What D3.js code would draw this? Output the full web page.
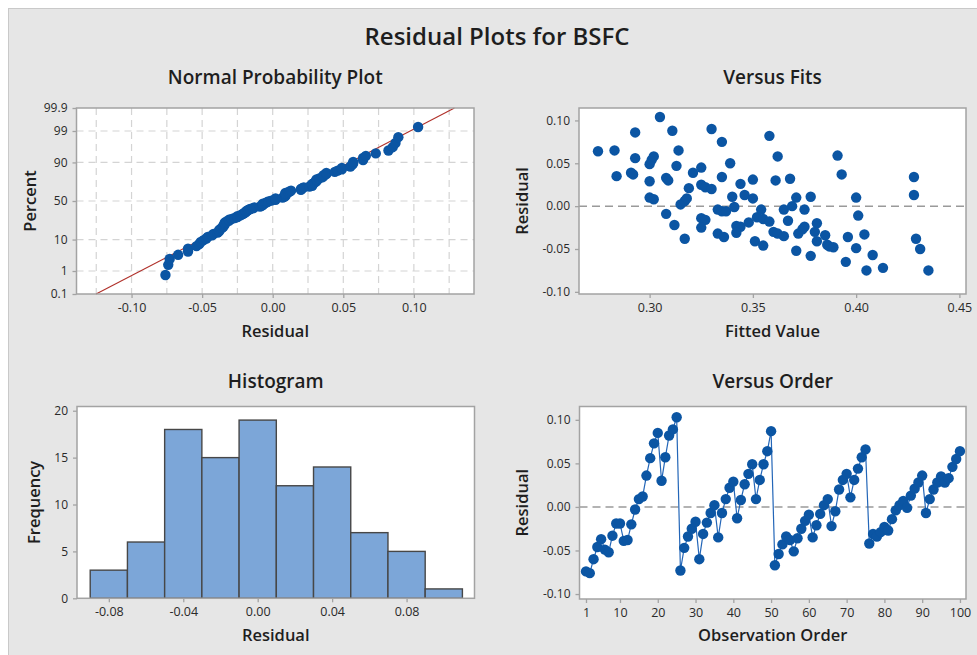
<!DOCTYPE html>
<html><head><meta charset="utf-8">
<script src="https://cdn.jsdelivr.net/npm/d3@7"></script>
<style>
html,body{margin:0;padding:0;background:#fff;}
svg{display:block;font-family:"Open Sans",sans-serif;}
</style></head>
<body>
<svg id="chart" width="977" height="655"></svg>
<script>
// ---------- DATA ----------
const mainTitle = "Residual Plots for BSFC";
const residualsByOrder = [
 -0.074,-0.076,-0.060,-0.046,-0.037,-0.049,-0.052,-0.033,-0.019,-0.019,
 -0.039,-0.038,-0.020,-0.003,0.009,0.012,0.036,0.056,0.073,0.085,
 0.030,0.057,0.082,0.089,0.103,-0.073,-0.047,-0.034,-0.025,-0.017,
 -0.060,-0.031,-0.018,-0.007,0.002,-0.035,-0.007,0.009,0.022,0.029,
 -0.013,0.008,0.026,0.038,0.049,0.009,0.031,0.049,0.064,0.087,
 -0.067,-0.054,-0.043,-0.034,-0.038,-0.051,-0.036,-0.025,-0.016,-0.009,
 -0.035,-0.021,-0.008,0.002,0.009,-0.022,-0.005,0.020,0.031,0.038,
 0.011,0.031,0.044,0.057,0.066,-0.042,-0.031,-0.034,-0.029,-0.023,
 -0.027,-0.014,-0.004,0.002,0.007,-0.001,0.013,0.021,0.028,0.036,
 -0.007,0.009,0.020,0.028,0.035,0.028,0.033,0.046,0.055,0.064];

const fittedValues = [
 0.275,0.283,0.284,0.291,0.292,0.293,0.293,0.300,0.301,0.302,0.300,0.300,0.302,
 0.305,0.308,0.308,0.309,0.311,0.312,0.313,0.314,0.315,0.317,0.318,0.317,0.319,0.321,
 0.325,0.325,0.327,0.330,0.330,0.325,0.327,0.325,0.333,0.335,0.335,0.335,0.333,0.336,0.337,
 0.339,0.340,0.341,0.342,0.344,0.342,0.344,0.346,0.348,0.350,0.350,0.351,0.352,0.354,0.355,
 0.355,0.358,0.358,0.360,0.361,0.362,0.362,0.365,0.365,0.367,0.368,
 0.369,0.371,0.371,0.372,0.374,0.375,0.375,0.378,0.378,0.381,0.380,0.381,0.385,0.386,0.387,
 0.389,0.391,0.393,0.395,0.396,0.400,0.400,0.401,0.404,0.405,0.408,0.413,
 0.428,0.428,0.429,0.431,0.435];
const fittedResiduals = [
 0.064,0.065,0.035,0.039,0.037,0.086,0.056,0.049,0.054,0.058,0.029,0.010,0.008,
 0.104,-0.009,0.033,0.030,0.088,-0.022,0.047,0.065,0.002,0.006,0.009,-0.038,0.021,0.039,
 0.045,0.025,0.022,0.020,0.090,-0.014,-0.016,-0.025,-0.004,-0.006,0.075,0.034,-0.032,-0.036,-0.006,
 0.050,0.011,-0.001,-0.023,-0.024,-0.031,0.026,0.013,-0.019,0.031,0.009,-0.041,-0.013,-0.004,-0.015,
 -0.046,-0.018,0.082,-0.030,0.030,0.058,-0.032,-0.035,-0.004,-0.017,0.032,
 0.000,0.010,-0.052,-0.032,-0.027,-0.024,-0.004,0.011,-0.058,-0.020,-0.030,-0.041,-0.034,-0.045,-0.047,
 -0.048,0.059,0.037,-0.065,-0.036,0.010,-0.049,-0.011,-0.033,-0.075,-0.057,-0.072,
 0.034,0.013,-0.038,-0.050,-0.075];

const histBinEdges = [-0.09,-0.07,-0.05,-0.03,-0.01,0.01,0.03,0.05,0.07,0.09,0.11];
const histCounts = [3,6,18,15,19,12,14,7,5,1];

const nppXTicks = [-0.10,-0.05,0.00,0.05,0.10];
const nppXGrid = [-0.125,-0.10,-0.075,-0.05,-0.025,0,0.025,0.05,0.075,0.10,0.125];
const nppPercentTicks = [0.1,1,10,50,90,99,99.9];
const nppPercentGrid = [1,10,50,90,99];
const fitsXTicks = [0.30,0.35,0.40,0.45];
const residTicks = [-0.10,-0.05,0.00,0.05,0.10];
const histXTicks = [-0.08,-0.04,0.00,0.04,0.08];
const histYTicks = [0,5,10,15,20];
const orderXTicks = [1,10,20,30,40,50,60,70,80,90,100];

// ---------- helpers ----------
function qnorm(p){
 const a=[-3.969683028665376e+01,2.209460984245205e+02,-2.759285104469687e+02,1.383577518672690e+02,-3.066479806614716e+01,2.506628277459239e+00];
 const b=[-5.447609879822406e+01,1.615858368580409e+02,-1.556989798598866e+02,6.680131188771972e+01,-1.328068155288572e+01];
 const c=[-7.784894002430293e-03,-3.223964580411365e-01,-2.400758277161838e+00,-2.549732539343734e+00,4.374664141464968e+00,2.938163982698783e+00];
 const d=[7.784695709041462e-03,3.224671290700398e-01,2.445134137142996e+00,3.754408661907416e+00];
 const pl=0.02425, ph=1-pl; let q,r;
 if(p<pl){q=Math.sqrt(-2*Math.log(p));return (((((c[0]*q+c[1])*q+c[2])*q+c[3])*q+c[4])*q+c[5])/((((d[0]*q+d[1])*q+d[2])*q+d[3])*q+1);}
 if(p<=ph){q=p-0.5;r=q*q;return (((((a[0]*r+a[1])*r+a[2])*r+a[3])*r+a[4])*r+a[5])*q/(((((b[0]*r+b[1])*r+b[2])*r+b[3])*r+b[4])*r+1);}
 q=Math.sqrt(-2*Math.log(1-p));return -(((((c[0]*q+c[1])*q+c[2])*q+c[3])*q+c[4])*q+c[5])/((((d[0]*q+d[1])*q+d[2])*q+d[3])*q+1);
}

const svg = d3.select("#chart");
const BG = "#e6e6e6", FRAME = "#a3a3a3", DOT = "#0b55a3", TXT = "#1e1e1e", TICKTXT="#2a2a2a";

svg.append("rect").attr("x",8.5).attr("y",8.5).attr("width",990).attr("height",680)
  .attr("fill",BG).attr("stroke","#c9c9c9");

svg.append("text").attr("x",497).attr("y",45).attr("text-anchor","middle")
  .attr("font-size",24).attr("font-weight",600).attr("fill",TXT).text(mainTitle);

function panel(opts){
  const {x0,x1,y0,y1,title,xlab,ylab,xScale,yScale,xTicks,yTicks,xFmt,yFmt,titleY,xlabY,ylabX} = opts;
  const g = svg.append("g");
  g.append("rect").attr("x",x0).attr("y",y0).attr("width",x1-x0).attr("height",y1-y0).attr("fill","#fff");
  const gx = g.append("g").attr("transform",`translate(0,${y1})`)
    .call(d3.axisBottom(xScale).tickValues(xTicks).tickFormat(xFmt).tickSize(4).tickPadding(5));
  const gy = g.append("g").attr("transform",`translate(${x0},0)`)
    .call(d3.axisLeft(yScale).tickValues(yTicks).tickFormat(yFmt).tickSize(4).tickPadding(5));
  [gx,gy].forEach(a=>{
    a.select(".domain").remove();
    a.selectAll(".tick line").attr("stroke",FRAME).attr("stroke-width",1.3);
    a.selectAll(".tick text").attr("fill",TICKTXT).attr("font-family","Open Sans, sans-serif");
  });
  gx.selectAll(".tick text").attr("font-size",12.5);
  gy.selectAll(".tick text").attr("font-size",12);
  const cx=(x0+x1)/2, cy=(y0+y1)/2;
  svg.append("text").attr("x",cx).attr("y",titleY).attr("text-anchor","middle")
    .attr("font-size",19).attr("font-weight",600).attr("fill",TXT).text(title);
  svg.append("text").attr("x",cx).attr("y",xlabY).attr("text-anchor","middle")
    .attr("font-size",16.5).attr("font-weight",600).attr("fill",TXT).text(xlab);
  svg.append("text").attr("transform",`translate(${ylabX},${cy}) rotate(-90)`).attr("text-anchor","middle")
    .attr("font-size",16.5).attr("font-weight",600).attr("fill",TXT).text(ylab);
  const plot = g.append("g");
  const frame = ()=> svg.append("rect").attr("x",x0).attr("y",y0).attr("width",x1-x0).attr("height",y1-y0)
      .attr("fill","none").attr("stroke",FRAME).attr("stroke-width",1.5);
  return {plot, frame};
}
const f2 = d3.format(".2f");
const fmtSigned = v => f2(v).replace("−","-");

// ---------- Normal probability plot ----------
{
  const x0=76.5,x1=474,y0=108,y1=294;
  const xs = d3.scaleLinear().domain([-0.1390,0.1426]).range([x0,x1]);
  const ys = d3.scaleLinear().domain([qnorm(0.001),qnorm(0.999)]).range([y1,y0]);
  const zTicks = nppPercentTicks.map(p=>qnorm(p/100));
  const p = panel({x0,x1,y0,y1,title:"Normal Probability Plot",xlab:"Residual",ylab:"Percent",
    xScale:xs,yScale:ys,xTicks:nppXTicks,yTicks:zTicks,
    xFmt:fmtSigned,yFmt:(d,i)=>String(nppPercentTicks[i]),titleY:84,xlabY:337,ylabX:36});
  const pl = p.plot;
  pl.selectAll("line.vg").data(nppXGrid).join("line")
    .attr("x1",d=>xs(d)).attr("x2",d=>xs(d)).attr("y1",y0).attr("y2",y1)
    .attr("stroke","#d4d4d4").attr("stroke-width",1.2).attr("stroke-dasharray","7,5");
  pl.selectAll("line.hg").data(nppPercentGrid).join("line")
    .attr("x1",x0).attr("x2",x1).attr("y1",d=>ys(qnorm(d/100))).attr("y2",d=>ys(qnorm(d/100)))
    .attr("stroke","#d4d4d4").attr("stroke-width",1.2).attr("stroke-dasharray","7,5");
  const n = residualsByOrder.length;
  const sorted = residualsByOrder.slice().sort(d3.ascending);
  const mu = d3.mean(sorted), sd = d3.deviation(sorted);
  const zLo = qnorm(0.001), zHi = qnorm(0.999);
  pl.append("line").attr("x1",xs(mu+sd*zLo)).attr("y1",ys(zLo)).attr("x2",xs(mu+sd*zHi)).attr("y2",ys(zHi))
    .attr("stroke","#b0302a").attr("stroke-width",1.1);
  pl.selectAll("circle").data(sorted).join("circle")
    .attr("cx",d=>xs(d)).attr("cy",(d,i)=>ys(qnorm((i+1-0.3)/(n+0.4))))
    .attr("r",5.2).attr("fill",DOT);
  p.frame();
}

// ---------- Versus Fits ----------
{
  const x0=579,x1=966,y0=108,y1=294;
  const xs = d3.scaleLinear().domain([0.2658,0.4532]).range([x0,x1]);
  const ys = d3.scaleLinear().domain([-0.1025,0.1145]).range([y1,y0]);
  const p = panel({x0,x1,y0,y1,title:"Versus Fits",xlab:"Fitted Value",ylab:"Residual",
    xScale:xs,yScale:ys,xTicks:fitsXTicks,yTicks:residTicks,xFmt:f2,yFmt:fmtSigned,titleY:84,xlabY:337,ylabX:528});
  p.plot.append("line").attr("x1",x0).attr("x2",x1).attr("y1",ys(0)).attr("y2",ys(0))
    .attr("stroke","#9a9a9a").attr("stroke-width",1.5).attr("stroke-dasharray","8,5");
  p.plot.selectAll("circle").data(fittedValues).join("circle")
    .attr("cx",d=>xs(d)).attr("cy",(d,i)=>ys(fittedResiduals[i])).attr("r",5.2).attr("fill",DOT);
  p.frame();
}

// ---------- Histogram ----------
{
  const x0=77,x1=474.5,y0=406.5,y1=598.3;
  const xs = d3.scaleLinear().domain([-0.0971,0.1165]).range([x0,x1]);
  const ys = d3.scaleLinear().domain([0,20.45]).range([y1,y0]);
  const p = panel({x0,x1,y0,y1,title:"Histogram",xlab:"Residual",ylab:"Frequency",
    xScale:xs,yScale:ys,xTicks:histXTicks,yTicks:histYTicks,xFmt:fmtSigned,yFmt:d3.format("d"),titleY:388,xlabY:641,ylabX:40});
  p.plot.selectAll("rect.bar").data(histCounts).join("rect").attr("class","bar")
    .attr("x",(d,i)=>xs(histBinEdges[i])).attr("width",(d,i)=>xs(histBinEdges[i+1])-xs(histBinEdges[i]))
    .attr("y",d=>ys(d)).attr("height",d=>ys(0)-ys(d))
    .attr("fill","#7ca6d8").attr("stroke","#474747").attr("stroke-width",1.4);
  p.frame();
}

// ---------- Versus Order ----------
{
  const x0=579.5,x1=966,y0=406.5,y1=599;
  const xs = d3.scaleLinear().domain([-0.72,101.6]).range([x0,x1]);
  const ys = d3.scaleLinear().domain([-0.1057,0.1153]).range([y1,y0]);
  const p = panel({x0,x1,y0,y1,title:"Versus Order",xlab:"Observation Order",ylab:"Residual",
    xScale:xs,yScale:ys,xTicks:orderXTicks,yTicks:residTicks,xFmt:d3.format("d"),yFmt:fmtSigned,titleY:388,xlabY:641,ylabX:528});
  p.plot.append("line").attr("x1",x0).attr("x2",x1).attr("y1",ys(0)).attr("y2",ys(0))
    .attr("stroke","#9a9a9a").attr("stroke-width",1.5).attr("stroke-dasharray","8,5");
  p.plot.append("path").datum(residualsByOrder)
    .attr("d",d3.line().x((d,i)=>xs(i+1)).y(d=>ys(d)))
    .attr("fill","none").attr("stroke","#2366b8").attr("stroke-width",1.2);
  p.plot.selectAll("circle").data(residualsByOrder).join("circle")
    .attr("cx",(d,i)=>xs(i+1)).attr("cy",d=>ys(d)).attr("r",5.2).attr("fill",DOT);
  p.frame();
}
</script>
</body></html>
